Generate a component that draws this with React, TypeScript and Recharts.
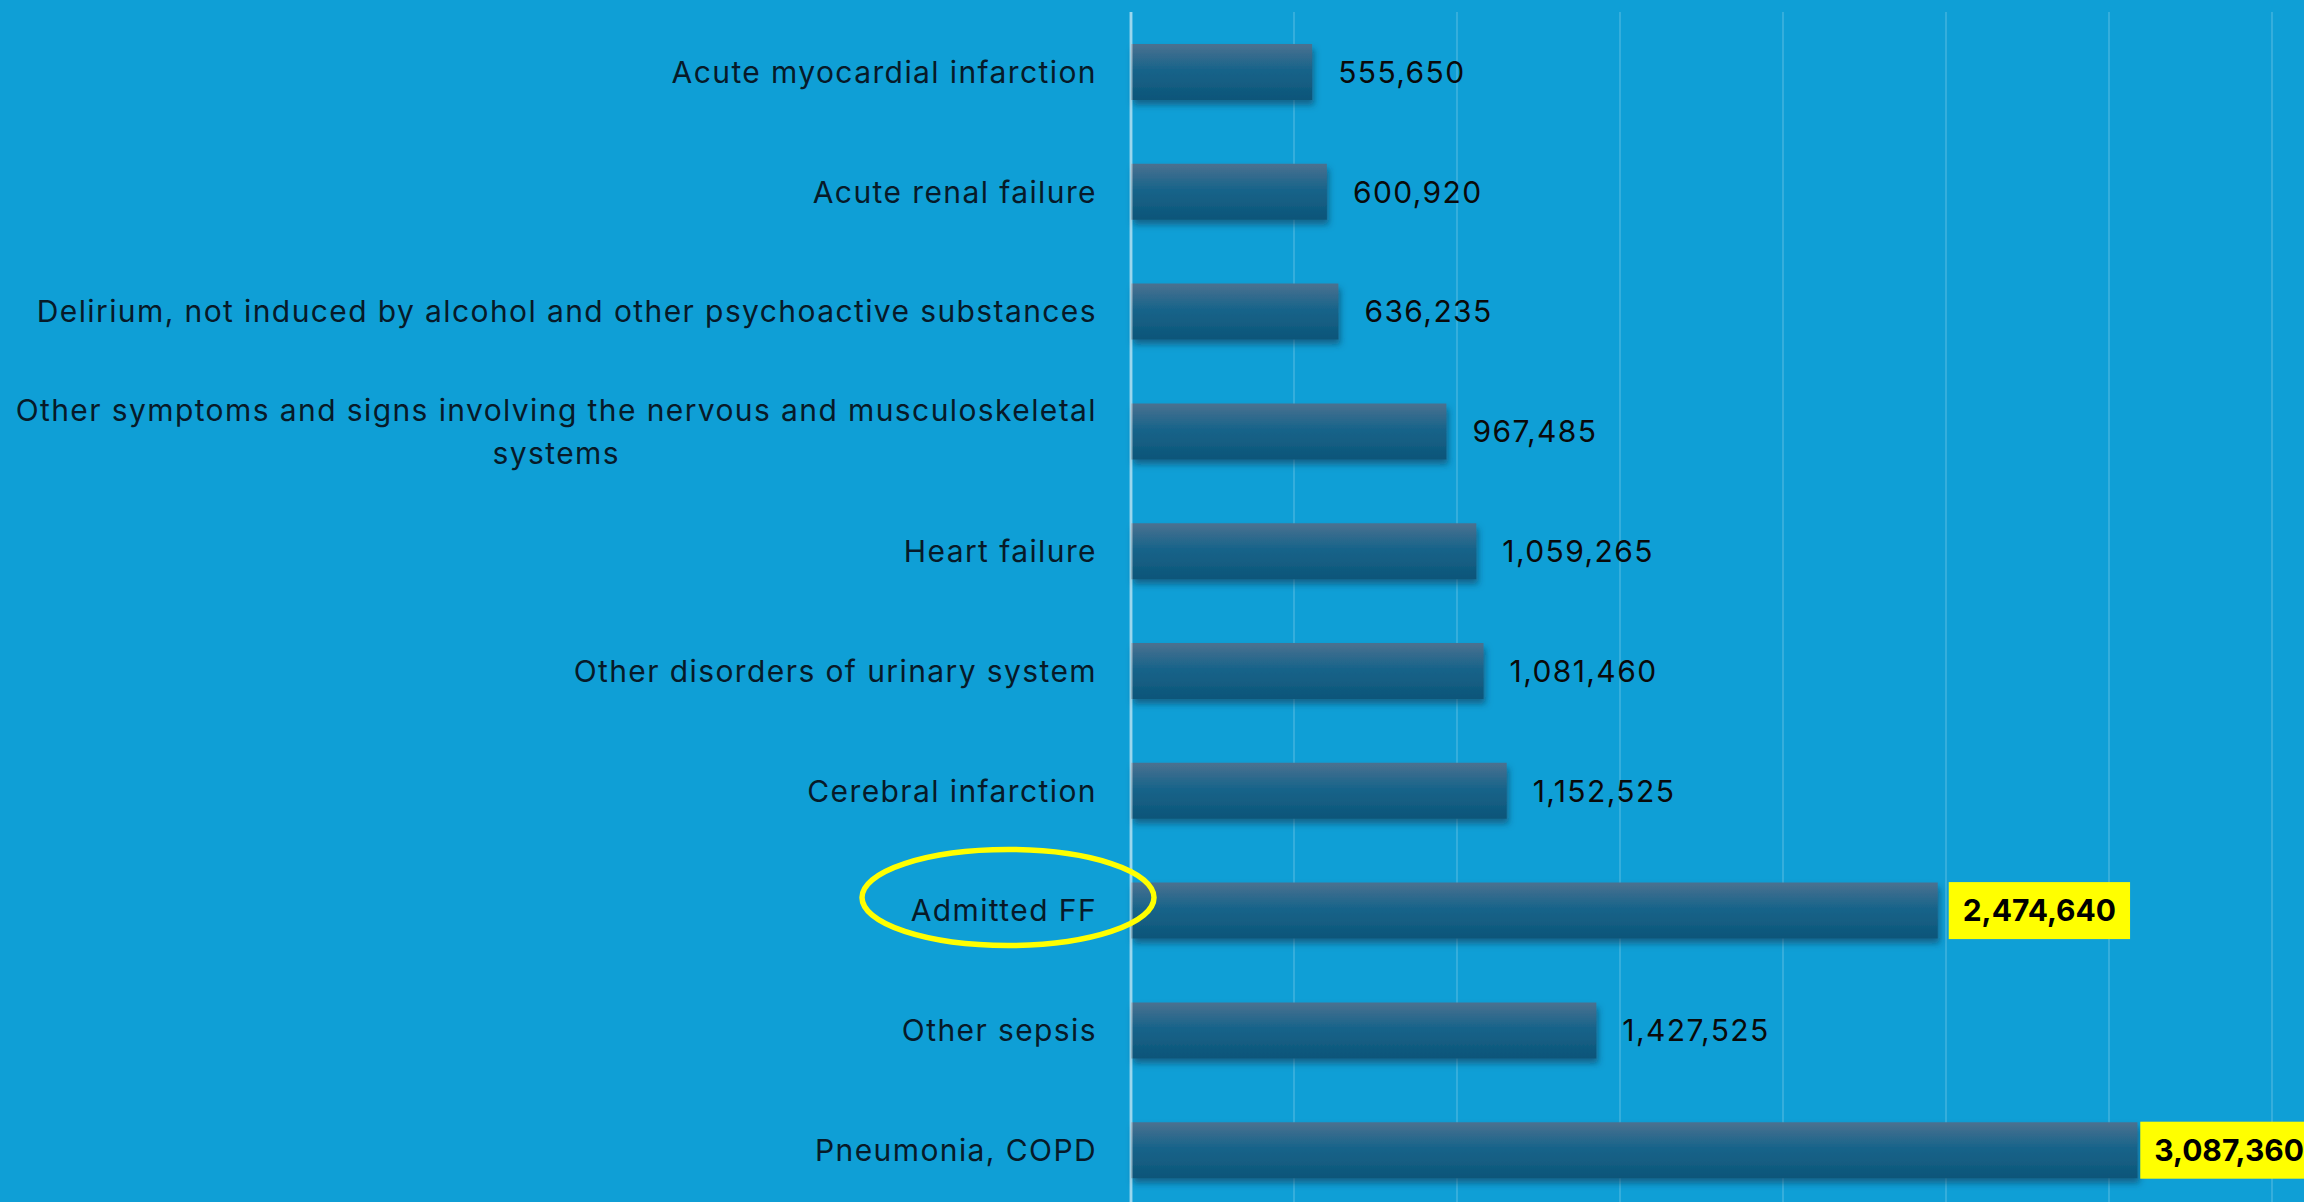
import React from "react";
import { BarChart, Bar, XAxis, YAxis, CartesianGrid, LabelList } from "recharts";

const categories = [
  "Acute myocardial infarction",
  "Acute renal failure",
  "Delirium, not induced by alcohol and other psychoactive substances",
  "Other symptoms and signs involving the nervous and musculoskeletal systems",
  "Heart failure",
  "Other disorders of urinary system",
  "Cerebral infarction",
  "Admitted FF",
  "Other sepsis",
  "Pneumonia, COPD",
];

const values = [555650, 600920, 636235, 967485, 1059265, 1081460, 1152525, 2474640, 1427525, 3087360];

const highlighted = ["Admitted FF", "Pneumonia, COPD"];
const circled = "Admitted FF";

const xTicks = [0, 500000, 1000000, 1500000, 2000000, 2500000, 3000000, 3500000];

const data = categories.map((name, i) => ({ name, value: values[i] }));

const W = 2304;
const H = 1202;
const BG = "#0f9fd6";
const FONT = 'Inter, "Open Sans", sans-serif';
const FS = 30;
const LS = 1.4; // Aptos-like spacing

let ctx: CanvasRenderingContext2D | null = null;
function measure(text: string, weight = "normal", ls = LS) {
  if (!ctx) ctx = document.createElement("canvas").getContext("2d");
  if (!ctx) return text.length * FS * 0.55;
  ctx.font = `${weight} ${FS}px ${FONT}`;
  return ctx.measureText(text).width + text.length * ls;
}

function wrap(text: string, maxW: number) {
  const words = text.split(" ");
  const lines: string[] = [];
  let cur = "";
  for (const w of words) {
    const next = cur ? cur + " " + w : w;
    if (cur && measure(next) > maxW) {
      lines.push(cur);
      cur = w;
    } else cur = next;
  }
  if (cur) lines.push(cur);
  return lines;
}

function CategoryTick(props: any) {
  const { x, y, payload } = props;
  const label: string = payload.value;
  const lines = wrap(label, 1095);
  const lh = 43;
  const blockW = Math.max(...lines.map((l) => measure(l)));
  return (
    <g>
      {lines.length === 1 ? (
        <text x={x} y={y} dy="0.36em" textAnchor="end" fontFamily={FONT} fontSize={FS} letterSpacing={LS} fill="#071a29">
          {label}
        </text>
      ) : (
        lines.map((l, i) => (
          <text
            key={i}
            x={x - blockW / 2}
            y={y + (i - (lines.length - 1) / 2) * lh}
            dy="0.36em"
            textAnchor="middle"
            fontFamily={FONT}
            fontSize={FS}
            letterSpacing={LS}
            fill="#071a29"
          >
            {l}
          </text>
        ))
      )}
      {label === circled && (
        <ellipse cx={x - 89} cy={y - 13} rx={146} ry={48} fill="none" stroke="#ffff00" strokeWidth={5.5} />
      )}
    </g>
  );
}

function ValueLabel(props: any) {
  const { x, y, width, height, value, index } = props;
  const text = Number(value).toLocaleString("en-US");
  const cy = y + height / 2;
  const endX = x + width;
  if (highlighted.includes(categories[index])) {
    const bw = measure(text, "bold", 0) + 28;
    const bx = Math.min(endX + 11, W + 14 - bw);
    return (
      <g>
        <rect x={bx} y={cy - 28.5} width={bw} height={57} fill="#ffff00" />
        <text x={bx + 14} y={cy} dy="0.36em" fontFamily={FONT} fontSize={FS} fontWeight="bold" fill="#000">
          {text}
        </text>
      </g>
    );
  }
  return (
    <text x={endX + 26} y={cy} dy="0.36em" fontFamily={FONT} fontSize={FS} letterSpacing={LS} fill="#0a0a0a">
      {text}
    </text>
  );
}

export default function App() {
  return (
    <div style={{ position: "fixed", left: 0, top: 0, width: W, height: H, overflow: "hidden", background: BG }}>
      <BarChart
        width={W}
        height={1215}
        data={data}
        layout="vertical"
        margin={{ top: 12, right: 32, bottom: 5, left: 0 }}
      >
        <defs>
          <linearGradient id="barFill" x1="0" y1="0" x2="0" y2="1">
            <stop offset="0%" stopColor="#4b7190" />
            <stop offset="45%" stopColor="#19648a" />
            <stop offset="100%" stopColor="#0c5579" />
          </linearGradient>
          <filter id="barShadow" x="-5%" y="-20%" width="115%" height="160%">
            <feDropShadow dx="2" dy="5" stdDeviation="3" floodColor="#0a3550" floodOpacity="0.55" />
          </filter>
        </defs>
        <CartesianGrid horizontal={false} stroke="rgba(255,255,255,0.16)" strokeWidth={2} />
        <XAxis type="number" domain={[0, 3500000]} ticks={xTicks} hide />
        <Bar dataKey="value" barSize={56} fill="url(#barFill)" filter="url(#barShadow)" isAnimationActive={false}>
          <LabelList dataKey="value" content={<ValueLabel />} />
        </Bar>
        <YAxis
          type="category"
          dataKey="name"
          width={1131}
          tickLine={false}
          tickSize={0}
          tickMargin={34}
          axisLine={{ stroke: "rgba(255,255,255,0.5)", strokeWidth: 3 }}
          tick={<CategoryTick />}
          interval={0}
        />
      </BarChart>
    </div>
  );
}
